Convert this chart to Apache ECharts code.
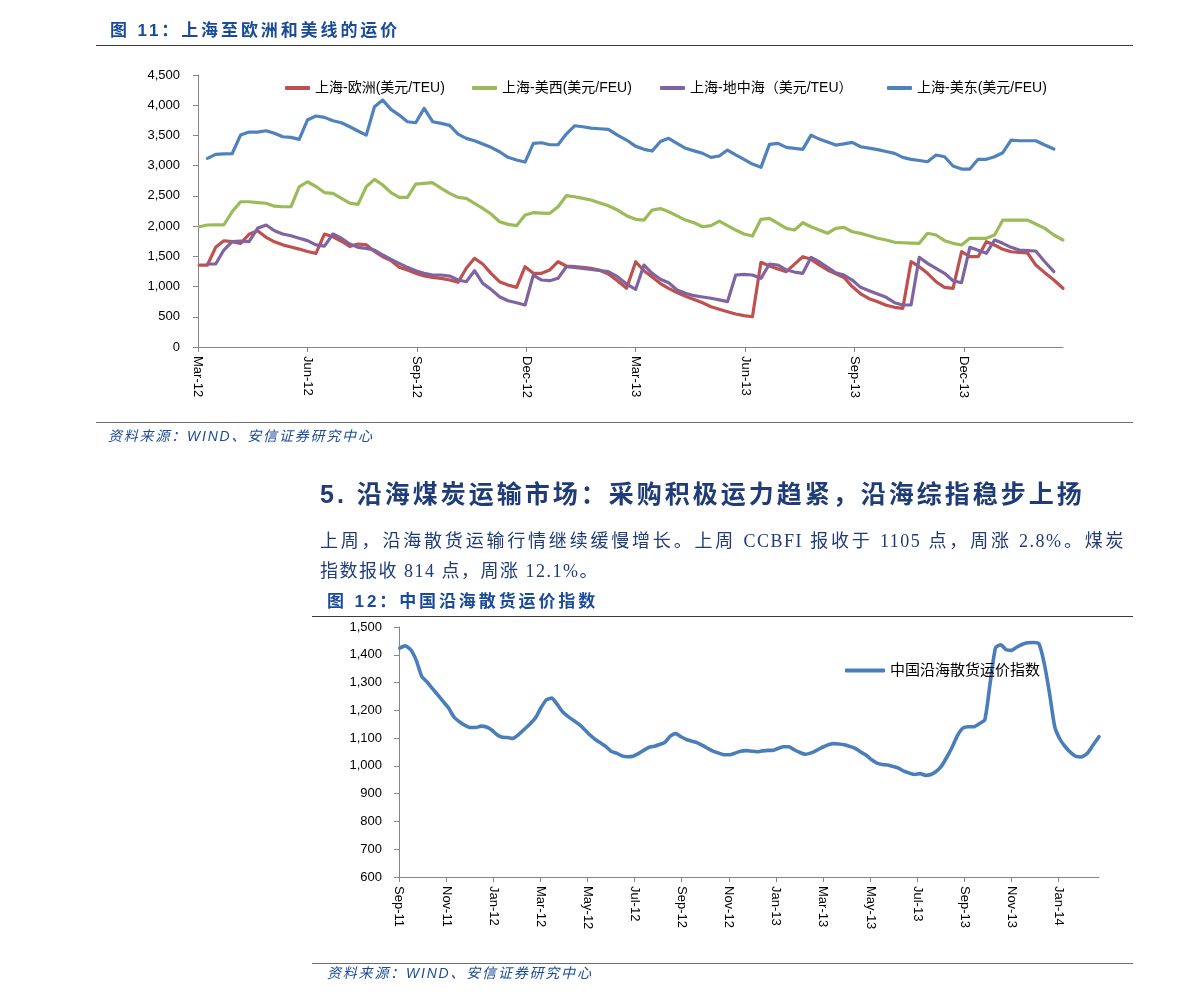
<!DOCTYPE html>
<html><head><meta charset="utf-8">
<script src="https://cdn.jsdelivr.net/npm/echarts@6/dist/echarts.min.js"></script>
<style>
html,body{margin:0;padding:0;background:#fff;}
#page{position:relative;width:1191px;height:1001px;overflow:hidden;background:#fff;}
#chart{position:absolute;left:0;top:0;width:1191px;height:1001px;}
.t{position:absolute;white-space:nowrap;z-index:2;font-family:"Liberation Sans","Noto Sans CJK SC",sans-serif;}
.fig{font-size:17px;line-height:20px;font-weight:bold;color:#1a4b9b;letter-spacing:2.9px;}
.src{font-size:14px;line-height:18px;font-style:italic;color:#1a4b9b;letter-spacing:1.8px;}
.h5{font-size:25px;line-height:30px;font-weight:bold;color:#1f3c78;letter-spacing:3px;}
.para{font-family:"Liberation Serif","Noto Sans CJK SC",serif;font-size:18px;line-height:24px;color:#1f3c78;letter-spacing:1.5px;}
.rule{position:absolute;z-index:2;height:0;}
</style></head>
<body><div id="page">
<div id="chart"></div>
<div class="t fig" style="left:110px;top:21px;">图 11：上海至欧洲和美线的运价</div>
<div class="rule" style="left:96px;top:45px;width:1037px;border-top:1.5px solid #3c3c3c;"></div>
<div class="rule" style="left:96px;top:422px;width:1037px;border-top:1.5px solid #6e6e6e;"></div>
<div class="t src" style="left:108px;top:427px;">资料来源：WIND、安信证券研究中心</div>
<div class="t h5" style="left:320px;top:479px;">5. 沿海煤炭运输市场：采购积极运力趋紧，沿海综指稳步上扬</div>
<div class="t para" style="left:320px;top:529px;width:805px;text-align:justify;text-align-last:justify;">上周，沿海散货运输行情继续缓慢增长。上周 CCBFI 报收于 1105 点，周涨 2.8%。煤炭</div>
<div class="t para" style="left:320px;top:559px;">指数报收 814 点，周涨 12.1%。</div>
<div class="t fig" style="left:327px;top:592px;">图 12：中国沿海散货运价指数</div>
<div class="rule" style="left:312px;top:616px;width:821px;border-top:1.5px solid #3c3c3c;"></div>
<div class="rule" style="left:312px;top:963px;width:821px;border-top:1.5px solid #6e6e6e;"></div>
<div class="t src" style="left:327px;top:964px;">资料来源：WIND、安信证券研究中心</div>
</div>
<script>
// ---------- Chart 11 data (weekly, from 2012-03-02) ----------
const seriesNames1 = ['上海-欧洲(美元/TEU)', '上海-美西(美元/FEU)', '上海-地中海（美元/TEU）', '上海-美东(美元/FEU)'];
const startDate1 = '2012-03-02';
const europe = [1356,1356,1649,1758,1742,1715,1864,1924,1814,1740,
  1690,1655,1620,1580,1549,1869,1824,1750,1665,1704,
  1690,1580,1494,1430,1320,1274,1220,1175,1153,1136,
  1108,1070,1302,1467,1373,1219,1080,1025,987,1328,
  1219,1219,1274,1411,1340,1330,1318,1302,1274,1207,
  1097,971,1411,1262,1160,1050,971,900,840,787,
  733,667,625,584,546,520,501,1401,1340,1290,
  1246,1370,1494,1451,1360,1274,1210,1150,1000,880,
  800,750,690,657,640,1411,1328,1219,1080,987,
  971,1576,1494,1494,1742,1687,1616,1576,1565,1555,
  1356,1230,1108,971];
const usWest = [1990,2018,2020,2020,2238,2403,2403,2390,2378,2330,
  2320,2320,2651,2734,2655,2555,2541,2460,2380,2360,
  2651,2773,2680,2555,2476,2476,2696,2707,2718,2625,
  2541,2476,2459,2376,2294,2200,2073,2029,2007,2183,
  2222,2215,2211,2320,2503,2486,2460,2431,2387,2337,
  2266,2172,2112,2100,2266,2290,2238,2170,2100,2056,
  1990,2007,2084,2007,1935,1869,1836,2112,2128,2046,
  1963,1935,2056,1990,1935,1881,1963,1980,1907,1880,
  1841,1800,1770,1732,1725,1720,1715,1881,1853,1759,
  1715,1687,1798,1798,1798,1853,2100,2100,2100,2100,
  2034,1963,1853,1770];
const med = [null,1373,1373,1604,1742,1750,1742,1963,2018,1924,
  1869,1840,1800,1760,1690,1670,1869,1800,1704,1649,
  1632,1604,1522,1450,1384,1318,1262,1219,1191,1191,
  1174,1108,1080,1262,1053,954,832,766,733,695,
  1191,1108,1097,1136,1328,1315,1302,1285,1265,1246,
  1163,1042,954,1356,1219,1120,1064,943,890,849,
  827,806,780,750,1191,1202,1191,1136,1373,1356,
  1274,1240,1219,1484,1411,1320,1229,1191,1108,987,
  930,877,822,733,695,695,1484,1384,1300,1219,
  1097,1064,1649,1600,1549,1770,1715,1649,1604,1595,
  1588,1411,1246,null];
const usEast = [null,3121,3187,3195,3197,3506,3556,3556,3578,3535,
  3478,3468,3435,3755,3821,3799,3743,3710,3644,3573,
  3506,3975,4085,3931,3837,3727,3710,3948,3727,3700,
  3667,3523,3452,3412,3358,3303,3230,3138,3093,3060,
  3369,3379,3346,3346,3523,3660,3644,3622,3611,3600,
  3506,3424,3320,3270,3242,3400,3452,3370,3287,3245,
  3204,3138,3160,3259,3180,3105,3027,2972,3353,3369,
  3303,3285,3270,3506,3440,3390,3341,3360,3385,3313,
  3290,3265,3235,3204,3138,3105,3085,3065,3176,3148,
  2994,2944,2944,3105,3105,3148,3214,3424,3412,3412,
  3412,3341,3275,null];
const xTickLabels1 = ['Mar-12','Jun-12','Sep-12','Dec-12','Mar-13','Jun-13','Sep-13','Dec-13'];

// ---------- Chart 12 data (weekly, from 2011-09-02) ----------
const seriesName2 = '中国沿海散货运价指数';
const startDate2 = '2011-09-02';
const ccbfi = [1424,1432,1418,1380,1322,1302,1278,1256,1232,1209,
  1176,1159,1146,1138,1138,1143,1140,1129,1112,1103,
  1102,1099,1112,1131,1150,1173,1210,1238,1244,1222,
  1196,1178,1164,1150,1132,1112,1096,1083,1070,1053,
  1046,1036,1033,1035,1044,1056,1067,1071,1077,1085,
  1107,1116,1105,1095,1089,1083,1073,1062,1052,1046,
  1040,1040,1046,1053,1055,1053,1051,1054,1056,1056,
  1063,1069,1069,1058,1049,1042,1047,1057,1068,1076,
  1080,1079,1076,1070,1063,1050,1038,1022,1010,1005,
  1003,998,992,981,974,969,972,966,969,980,
  1000,1032,1068,1110,1136,1141,1141,1152,1166,1300,
  1425,1436,1418,1416,1428,1438,1443,1444,1440,1370,
  1262,1140,1095,1068,1048,1034,1032,1045,1075,1105];
const xTickLabels2 = ['Sep-11','Nov-11','Jan-12','Mar-12','May-12','Jul-12','Sep-12','Nov-12','Jan-13','Mar-13','May-13','Jul-13','Sep-13','Nov-13','Jan-14'];

// ---------- helpers ----------
function weeklyDates(start, n) {
  const p = start.split('-').map(Number);
  const out = [];
  for (let i = 0; i < n; i++) out.push(new Date(Date.UTC(p[0], p[1] - 1, p[2] + 7 * i)));
  return out;
}
function monthOffset(dt, y0, m0) {
  const y = dt.getUTCFullYear(), m = dt.getUTCMonth() + 1, d = dt.getUTCDate();
  const dim = new Date(Date.UTC(y, m, 0)).getUTCDate();
  return (y - y0) * 12 + (m - m0) + (d - 1) / dim;
}
const x1 = weeklyDates(startDate1, europe.length).map(d => monthOffset(d, 2012, 3));
const x2 = weeklyDates(startDate2, ccbfi.length).map(d => monthOffset(d, 2011, 9));
const pair = (xs, vs) => xs.map((x, i) => [x, vs[i] == null ? '-' : vs[i]]);
function tickFormatter(labels, step) {
  return v => { const k = Math.round(v / step); return (Math.abs(v - k * step) < 1e-6 && labels[k]) ? labels[k] : ''; };
}
const fontLatin = "'Liberation Sans', Arial, sans-serif";
const fontCJK = "'Liberation Sans', 'Noto Sans CJK SC', sans-serif";
const axisGray = '#868686';
const colors1 = ['#C0504D', '#9BBB59', '#8064A2', '#4F81BD'];
const legendPos1 = [285, 472, 660, 887];

const chart = echarts.init(document.getElementById('chart'), null, {renderer: 'canvas'});
const xTicks1 = xTickLabels1.map((_, k) => 3 * k);
const xTicks2 = xTickLabels2.map((_, k) => 2 * k);

const baseX = {
  type: 'value',
  axisLine: {show: true, lineStyle: {color: axisGray, width: 1}},
  axisTick: {show: true, length: 5, lineStyle: {color: axisGray}},
  splitLine: {show: false},
  axisLabel: {rotate: -90, fontSize: 13, color: '#000', fontFamily: fontLatin, margin: 9}
};
const baseY = {
  type: 'value',
  axisLine: {show: true, lineStyle: {color: axisGray, width: 1}},
  axisTick: {show: true, length: 5, lineStyle: {color: axisGray}},
  splitLine: {show: false},
  axisLabel: {fontSize: 13, color: '#000', fontFamily: fontLatin,
    formatter: v => Number(v).toLocaleString('en-US')}
};
const legendCommon = {
  orient: 'horizontal', padding: 0, icon: 'roundRect', itemWidth: 25, itemHeight: 4,
  selectedMode: false,
  textStyle: {fontSize: 14, color: '#000', fontFamily: fontCJK}
};
const data1 = [europe, usWest, med, usEast];

chart.setOption({
  animation: false,
  grid: [
    {left: 198, top: 75, width: 865, height: 272, containLabel: false},
    {left: 399, top: 627, width: 700, height: 250, containLabel: false}
  ],
  xAxis: [
    Object.assign({}, baseX, {gridIndex: 0, min: 0, max: x1[x1.length - 1], interval: 3,
      axisTick: Object.assign({}, baseX.axisTick, {customValues: xTicks1}),
      axisLabel: Object.assign({}, baseX.axisLabel, {customValues: xTicks1, formatter: tickFormatter(xTickLabels1, 3)})}),
    Object.assign({}, baseX, {gridIndex: 1, min: 0, max: x2[x2.length - 1], interval: 2,
      axisTick: Object.assign({}, baseX.axisTick, {customValues: xTicks2}),
      axisLabel: Object.assign({}, baseX.axisLabel, {customValues: xTicks2, formatter: tickFormatter(xTickLabels2, 2)})})
  ],
  yAxis: [
    Object.assign({}, baseY, {gridIndex: 0, min: 0, max: 4500, interval: 500,
      axisLabel: Object.assign({}, baseY.axisLabel, {margin: 18})}),
    Object.assign({}, baseY, {gridIndex: 1, min: 600, max: 1500, interval: 100,
      axisLabel: Object.assign({}, baseY.axisLabel, {margin: 17})})
  ],
  legend: seriesNames1.map((n, i) => Object.assign({}, legendCommon, {data: [n], left: legendPos1[i], top: 81}))
    .concat([Object.assign({}, legendCommon, {data: [seriesName2], left: 845, top: 663, itemWidth: 40,
      textStyle: {fontSize: 15, color: '#000', fontFamily: fontCJK}})]),
  series: seriesNames1.map((n, i) => ({
    name: n, type: 'line', xAxisIndex: 0, yAxisIndex: 0,
    data: pair(x1, data1[i]), showSymbol: false, symbol: 'none',
    connectNulls: false, color: colors1[i],
    lineStyle: {width: 3.2, color: colors1[i], cap: 'round', join: 'round'}
  })).concat([{
    name: seriesName2, type: 'line', xAxisIndex: 1, yAxisIndex: 1,
    data: pair(x2, ccbfi), showSymbol: false, symbol: 'none', smooth: 0.2,
    color: '#4A7EBB',
    lineStyle: {width: 3.6, color: '#4A7EBB', cap: 'round', join: 'round'}
  }])
});
</script>
</body></html>
